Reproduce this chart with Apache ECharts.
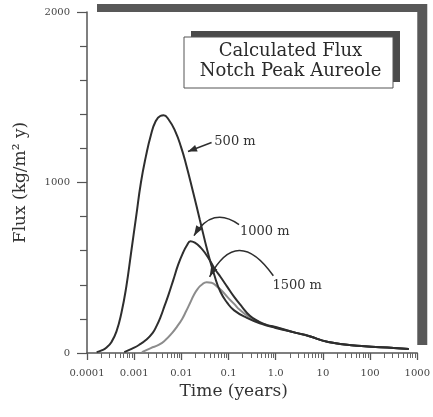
<!DOCTYPE html>
<html><head><meta charset="utf-8">
<script src="https://cdn.jsdelivr.net/npm/echarts@6/dist/echarts.min.js"></script>
<style>html,body{margin:0;padding:0;background:#fff;}#c{width:433px;height:417px;}</style>
</head><body><div id="c"></div>
<script>
// ---- data ----
const xTickValues = [1e-4, 1e-3, 1e-2, 1e-1, 1, 10, 100, 1000];
const xTickLabels = ['0.0001', '0.001', '0.01', '0.1', '1.0', '10', '100', '1000'];
const yTickValues = [0, 1000, 2000];
const seriesNames = ['500 m', '1000 m', '1500 m'];

const t500 = [1.6e-4, 2.04e-4, 2.6e-4, 3.31e-4, 4.2e-4, 5.36e-4, 6.8e-4, 8.6e-4, 1.1e-3, 1.39e-3, 1.77e-3, 2.25e-3, 2.85e-3, 3.6e-3, 4.2e-3, 5.32e-3, 7.43e-3, 9.9e-3, 0.0126, 0.0176, 0.0246, 0.0361, 0.0505, 0.0672, 0.094, 0.1315, 0.245, 0.50, 1.0, 2.7, 5.0, 13, 66, 320, 660];
const v500 = [5, 15, 32, 65, 125, 235, 388, 588, 800, 1000, 1153, 1276, 1359, 1391, 1394, 1371, 1300, 1206, 1106, 947, 782, 594, 453, 359, 294, 250, 206, 171, 147, 118, 100, 65, 41, 29, 23];

const t1000 = [6.16e-4, 9.05e-4, 1.26e-3, 1.77e-3, 2.47e-3, 2.99e-3, 3.63e-3, 4.4e-3, 5.33e-3, 6.76e-3, 8.56e-3, 0.01085, 0.01315, 0.01555, 0.0193, 0.0257, 0.0326, 0.0417, 0.0527, 0.0672, 0.094, 0.1315, 0.193, 0.283, 0.416, 0.64, 1.0, 2.7, 5.0, 13, 66, 320, 660];
const v1000 = [5, 26, 47, 76, 118, 159, 212, 276, 341, 429, 518, 588, 632, 656, 647, 618, 582, 535, 488, 447, 388, 329, 271, 218, 188, 165, 153, 118, 100, 65, 41, 29, 23];

const t1500 = [1.46e-3, 2.25e-3, 3.3e-3, 4.59e-3, 6.4e-3, 8.1e-3, 0.0104, 0.0125, 0.0152, 0.0184, 0.0224, 0.027, 0.0343, 0.0436, 0.058, 0.0737, 0.094, 0.1315, 0.173, 0.245, 0.34, 0.455, 0.64, 1.0, 2.7, 5.0, 13, 66, 320, 660];
const v1500 = [5, 29, 47, 76, 118, 155, 200, 243, 292, 340, 378, 400, 415, 412, 388, 362, 329, 288, 253, 221, 194, 178, 165, 150, 118, 100, 65, 41, 29, 23];

// annotation anchors in data space [time, flux]
const ann500 = {label: [0.05, 1241], from: [0.0437, 1235], to: [0.0138, 1182]};
const ann1000 = {label: [0.175, 712], from: [0.167, 753], ctrl: [0.0458, 865], to: [0.0185, 688]};
const ann1500 = {label: [0.85, 394], from: [0.89, 453], ctrl: [0.152, 753], to: [0.0397, 447]};
const titleLines = ['Calculated Flux', 'Notch Peak Aureole'];

// ---- chart ----
const serif = '"DejaVu Serif", "Liberation Serif", serif';
const chart = echarts.init(document.getElementById('c'));
const pair = (ts, vs) => ts.map((t, i) => [t, vs[i]]);
const minorX = [];
for (let e = -4; e < 3; e++) for (let k = 2; k < 10; k++) minorX.push(+(k * Math.pow(10, e)).toPrecision(3));
const labelFor = v => {
  for (let i = 0; i < xTickValues.length; i++) {
    if (Math.abs(Math.log10(v) - Math.log10(xTickValues[i])) < 1e-6) return xTickLabels[i];
  }
  return '';
};
const dark = '#333';
const lineColors = ['#2e2e2e', '#2e2e2e', '#8c8c8c'];

chart.setOption({
  animation: false,
  grid: {left: 87, right: 8, top: 12, bottom: 64},
  xAxis: [{
    type: 'log', logBase: 10, min: 1e-4, max: 1e3, position: 'bottom',
    axisLine: {show: true, lineStyle: {color: '#555', width: 1.5}},
    axisTick: {show: true, length: 7, customValues: xTickValues, lineStyle: {color: '#555', width: 1.3}},
    axisLabel: {show: true, customValues: xTickValues, formatter: labelFor, margin: 15, fontFamily: serif, fontSize: 10, color: '#444'},
    splitLine: {show: false},
    name: 'Time (years)', nameLocation: 'middle', nameGap: 28,
    nameTextStyle: {fontFamily: serif, fontSize: 17, color: dark, padding: [0, 37, 0, 0]}
  }, {
    type: 'log', logBase: 10, min: 1e-4, max: 1e3, position: 'bottom', gridIndex: 0,
    axisLine: {show: false},
    axisTick: {show: true, length: 5, customValues: minorX, lineStyle: {color: '#666', width: 1}},
    axisLabel: {show: false}, splitLine: {show: false}
  }],
  yAxis: {
    type: 'value', min: 0, max: 2000, interval: 1000,
    axisLine: {show: true, lineStyle: {color: '#555', width: 1.5}},
    axisTick: {show: true, length: 10, lineStyle: {color: '#555', width: 1.2}},
    minorTick: {show: true, splitNumber: 5, length: 7, lineStyle: {color: '#555', width: 1.2}},
    axisLabel: {margin: 17, fontFamily: serif, fontSize: 10, color: '#444',
      formatter: v => yTickValues.includes(v) ? String(v) : ''},
    splitLine: {show: false},
    name: 'Flux (kg/m² y)', nameLocation: 'middle', nameGap: 58,
    nameTextStyle: {fontFamily: serif, fontSize: 17, color: dark}
  },
  series: [
    {name: seriesNames[0], type: 'line', data: pair(t500, v500)},
    {name: seriesNames[1], type: 'line', data: pair(t1000, v1000)},
    {name: seriesNames[2], type: 'line', data: pair(t1500, v1500)}
  ].map((s, i) => Object.assign(s, {
    xAxisIndex: 0, yAxisIndex: 0, smooth: 0.5, showSymbol: false, symbol: 'none', z: 3 - i,
    lineStyle: {color: lineColors[i], width: 2}
  }))
});

// ---- decorations placed through the axes ----
const P = d => chart.convertToPixel({gridIndex: 0}, d);
const tl = P([1e-4, 2000]), br = P([1e3, 0]);
const shadow = '#585858';
function arrowHead(tip, from, len, half) {
  const dx = tip[0] - from[0], dy = tip[1] - from[1];
  const L = Math.hypot(dx, dy) || 1, ux = dx / L, uy = dy / L;
  const bx = tip[0] - ux * len, by = tip[1] - uy * len;
  return {type: 'polygon', z: 20, shape: {points: [tip, [bx - uy * half, by + ux * half], [bx + uy * half, by - ux * half]]},
    style: {fill: '#2e2e2e'}};
}
function annText(pos, text) {
  return {type: 'text', z: 20, x: pos[0], y: pos[1],
    style: {text, fontFamily: serif, fontSize: 13, fill: dark, align: 'left', verticalAlign: 'middle'}};
}
const g = [];
g.push({type: 'rect', z: -20, shape: {x: tl[0] + 10, y: tl[1] - 8, width: br[0] - tl[0], height: br[1] - tl[1]}, style: {fill: shadow}});
g.push({type: 'rect', z: -10, shape: {x: tl[0], y: tl[1], width: br[0] - tl[0], height: br[1] - tl[1]}, style: {fill: '#fff'}});
const bx = 184, by = 37, bw = 209, bh = 51;
g.push({type: 'rect', z: 10, shape: {x: bx + 7, y: by - 6, width: bw, height: bh}, style: {fill: '#4a4a4a'}});
g.push({type: 'rect', z: 11, shape: {x: bx, y: by, width: bw, height: bh}, style: {fill: '#fff', stroke: '#555', lineWidth: 1}});
g.push({type: 'text', z: 12, x: bx + bw / 2 + 2, y: by + 14, style: {text: titleLines[0], fontFamily: serif, fontSize: 18, fill: '#2a2a2a', align: 'center', verticalAlign: 'middle'}});
g.push({type: 'text', z: 12, x: bx + bw / 2 + 2, y: by + 34, style: {text: titleLines[1], fontFamily: serif, fontSize: 18, fill: '#2a2a2a', align: 'center', verticalAlign: 'middle'}});
{
  const a = P(ann500.from), b = P(ann500.to);
  g.push({type: 'line', z: 20, shape: {x1: a[0], y1: a[1], x2: b[0], y2: b[1]}, style: {stroke: '#2e2e2e', lineWidth: 1.5}});
  g.push(arrowHead(b, a, 9, 3.5));
  g.push(annText(P(ann500.label), seriesNames[0]));
}
[[ann1000, seriesNames[1]], [ann1500, seriesNames[2]]].forEach(([an, name]) => {
  const a = P(an.from), c = P(an.ctrl), b = P(an.to);
  g.push({type: 'bezierCurve', z: 20, shape: {x1: a[0], y1: a[1], cpx1: c[0], cpy1: c[1], x2: b[0], y2: b[1]},
    style: {stroke: '#2e2e2e', lineWidth: 1.5, fill: null}});
  g.push(arrowHead(b, c, 10, 3.5));
  g.push(annText(P(an.label), name));
});
chart.setOption({graphic: g});
</script></body></html>
